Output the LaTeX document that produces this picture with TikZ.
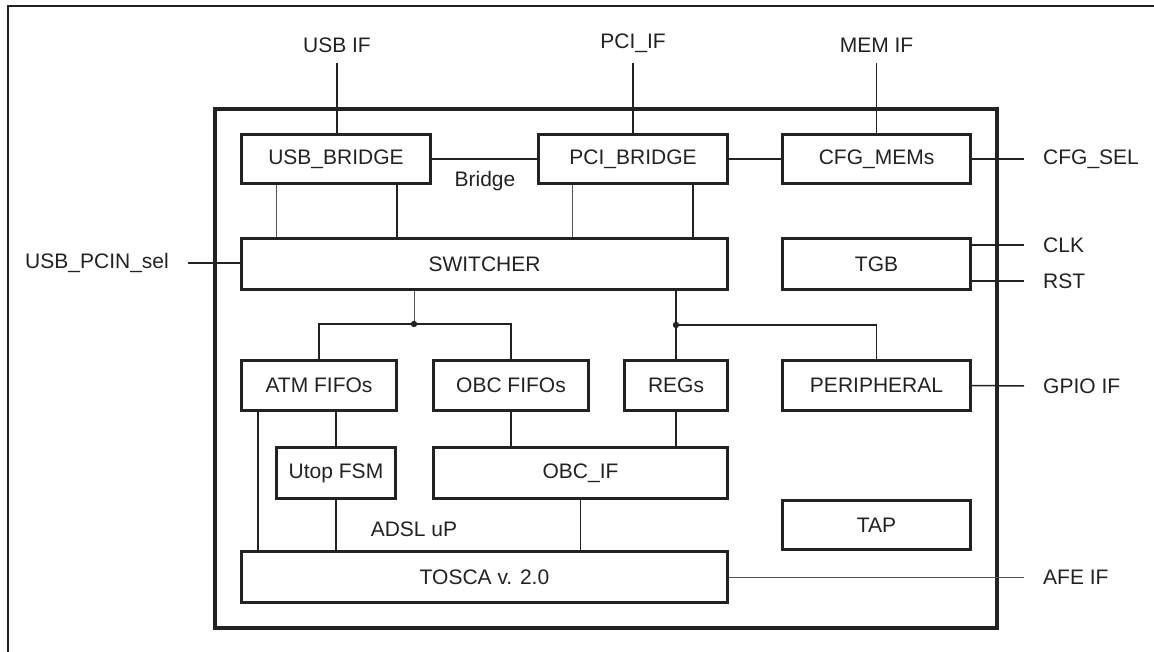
\documentclass[tikz,border=0pt]{standalone}
\usepackage{fontspec}
\setmainfont{Liberation Sans}
\usepackage{tikz}
\usetikzlibrary{positioning}
\definecolor{ink}{HTML}{222222}
\definecolor{thinink}{HTML}{555555}
\tikzset{
    block/.style={draw=ink, line width=3.3pt, inner sep=0pt, text=ink},
    sig/.style={inner xsep=19pt, inner ysep=10pt, text=ink},
    wire/.style={draw=ink, line width=1.5pt},
    thinwire/.style={draw=thinink, line width=1pt}
}
\begin{document}
\begin{tikzpicture}[x=1pt, y=-1pt, font=\fontsize{21}{25}\selectfont]
            \useasboundingbox (0, 0) rectangle (1154, 652);
            \begin{scope}
                \clip (0, 0) rectangle (1154, 652);
                \draw [ink, line width=2pt] (8, 6) rectangle (1170, 670);
            \end{scope}
            \draw [ink, line width=4pt] (215, 109) rectangle (997, 628);

            \node [block, minimum width=189pt, minimum height=49pt] (usbbr) at (336, 159) {USB\_BRIDGE};
            \node [block, minimum width=189pt, minimum height=49pt] (pcibr) at (633, 159) {PCI\_BRIDGE};
            \node [block, minimum width=188pt, minimum height=49pt] (cfg) at (876.5, 159) {CFG\_MEMs};
            \node [block, minimum width=486pt, minimum height=51pt] (sw) at (484.5, 264) {SWITCHER};
            \node [block, minimum width=188pt, minimum height=51pt] (tgb) at (876.5, 264) {TGB};
            \node [block, minimum width=155pt, minimum height=50pt] (atm) at (319, 385.5) {ATM FIFOs};
            \node [block, minimum width=155pt, minimum height=50pt] (obcf) at (511, 385.5) {OBC FIFOs};
            \node [block, minimum width=103pt, minimum height=50pt] (regs) at (676, 385.5) {REGs};
            \node [block, minimum width=188pt, minimum height=50pt] (peri) at (876.5, 385.5) {PERIPHERAL};
            \node [block, minimum width=119pt, minimum height=51pt] (utop) at (336, 473) {Utop FSM};
            \node [block, minimum width=294pt, minimum height=51pt] (obcif) at (580.5, 473) {OBC\_IF};
            \node [block, minimum width=188pt, minimum height=49pt] (tap) at (876.5, 525) {TAP};
            \node [block, minimum width=486pt, minimum height=51pt] (tosca) at (484.5, 577) {TOSCA v. 2.0};

            \node [sig, anchor=south] (usbif) at (337, 63) {USB IF};
            \node [sig, anchor=south] (pciif) at (633, 63) {PCI\_IF};
            \node [sig, anchor=south] (memif) at (876.5, 63) {MEM IF};
            \node [sig, anchor=east] (usbsel) at (188, 263) {USB\_PCIN\_sel};
            \node [sig, anchor=west] (cfgsel) at (1024, 159) {CFG\_SEL};
            \node [sig, anchor=west] (clk) at (1024, 245) {CLK};
            \node [sig, anchor=west] (rst) at (1024, 281) {RST};
            \node [sig, anchor=west] (gpio) at (1024, 386) {GPIO IF};
            \node [sig, anchor=west] (afe) at (1024, 577) {AFE IF};
            \node [text=ink] (bridge) at (485, 181) {Bridge};
            \node [text=ink] (adsl) at (414, 529) {ADSL uP};

            \coordinate (jsw) at (414, 324);
            \coordinate (jreg) at (676, 325);

            \draw [wire] (usbif.south) -- (usbif.south |- usbbr.north);
            \draw [wire] (pciif.south) -- (pcibr.north);
            \draw [wire] (memif.south) -- (cfg.north);
            \draw [wire] (usbbr.east) -- (pcibr.west);
            \draw [wire] (pcibr.east) -- (cfg.west);
            \draw [wire] (cfg.east) -- (cfgsel.west);
            \draw [wire] (usbsel.east) -- (usbsel.east -| sw.west);
            \draw [wire] (clk.west -| tgb.east) -- (clk.west);
            \draw [wire] (rst.west -| tgb.east) -- (rst.west);
            \draw [wire] (peri.east) -- (gpio.west);
            \draw [thinwire] (tosca.east) -- (afe.west);

            \draw [thinwire] ([xshift=-60pt]usbbr.south) -- ([xshift=-60pt]usbbr.south |- sw.north);
            \draw [wire] ([xshift=61pt]usbbr.south) -- ([xshift=61pt]usbbr.south |- sw.north);
            \draw [thinwire] ([xshift=-61pt]pcibr.south) -- ([xshift=-61pt]pcibr.south |- sw.north);
            \draw [wire] ([xshift=60pt]pcibr.south) -- ([xshift=60pt]pcibr.south |- sw.north);

            \draw [thinwire] (sw.south -| jsw) -- (jsw);
            \draw [wire] (atm.north) |- (jsw) -| (obcf.north);
            \draw [wire] (sw.south -| jreg) -- (regs.north);
            \draw [wire] (jreg) -| (peri.north);
            \fill [ink] (jsw) circle (3.2pt);
            \fill [ink] (jreg) circle (3.2pt);

            \draw [wire] ([xshift=-61pt]atm.south) -- ([xshift=-61pt]atm.south |- tosca.north);
            \draw [wire] (utop.north) -- (utop.north |- atm.south);
            \draw [wire] (utop.south) -- (utop.south |- tosca.north);
            \draw [wire] (obcf.south) -- (obcf.south |- obcif.north);
            \draw [wire] (regs.south) -- (regs.south |- obcif.north);
            \draw [wire] (obcif.south) -- (obcif.south |- tosca.north);
        \end{tikzpicture}
\end{document}
